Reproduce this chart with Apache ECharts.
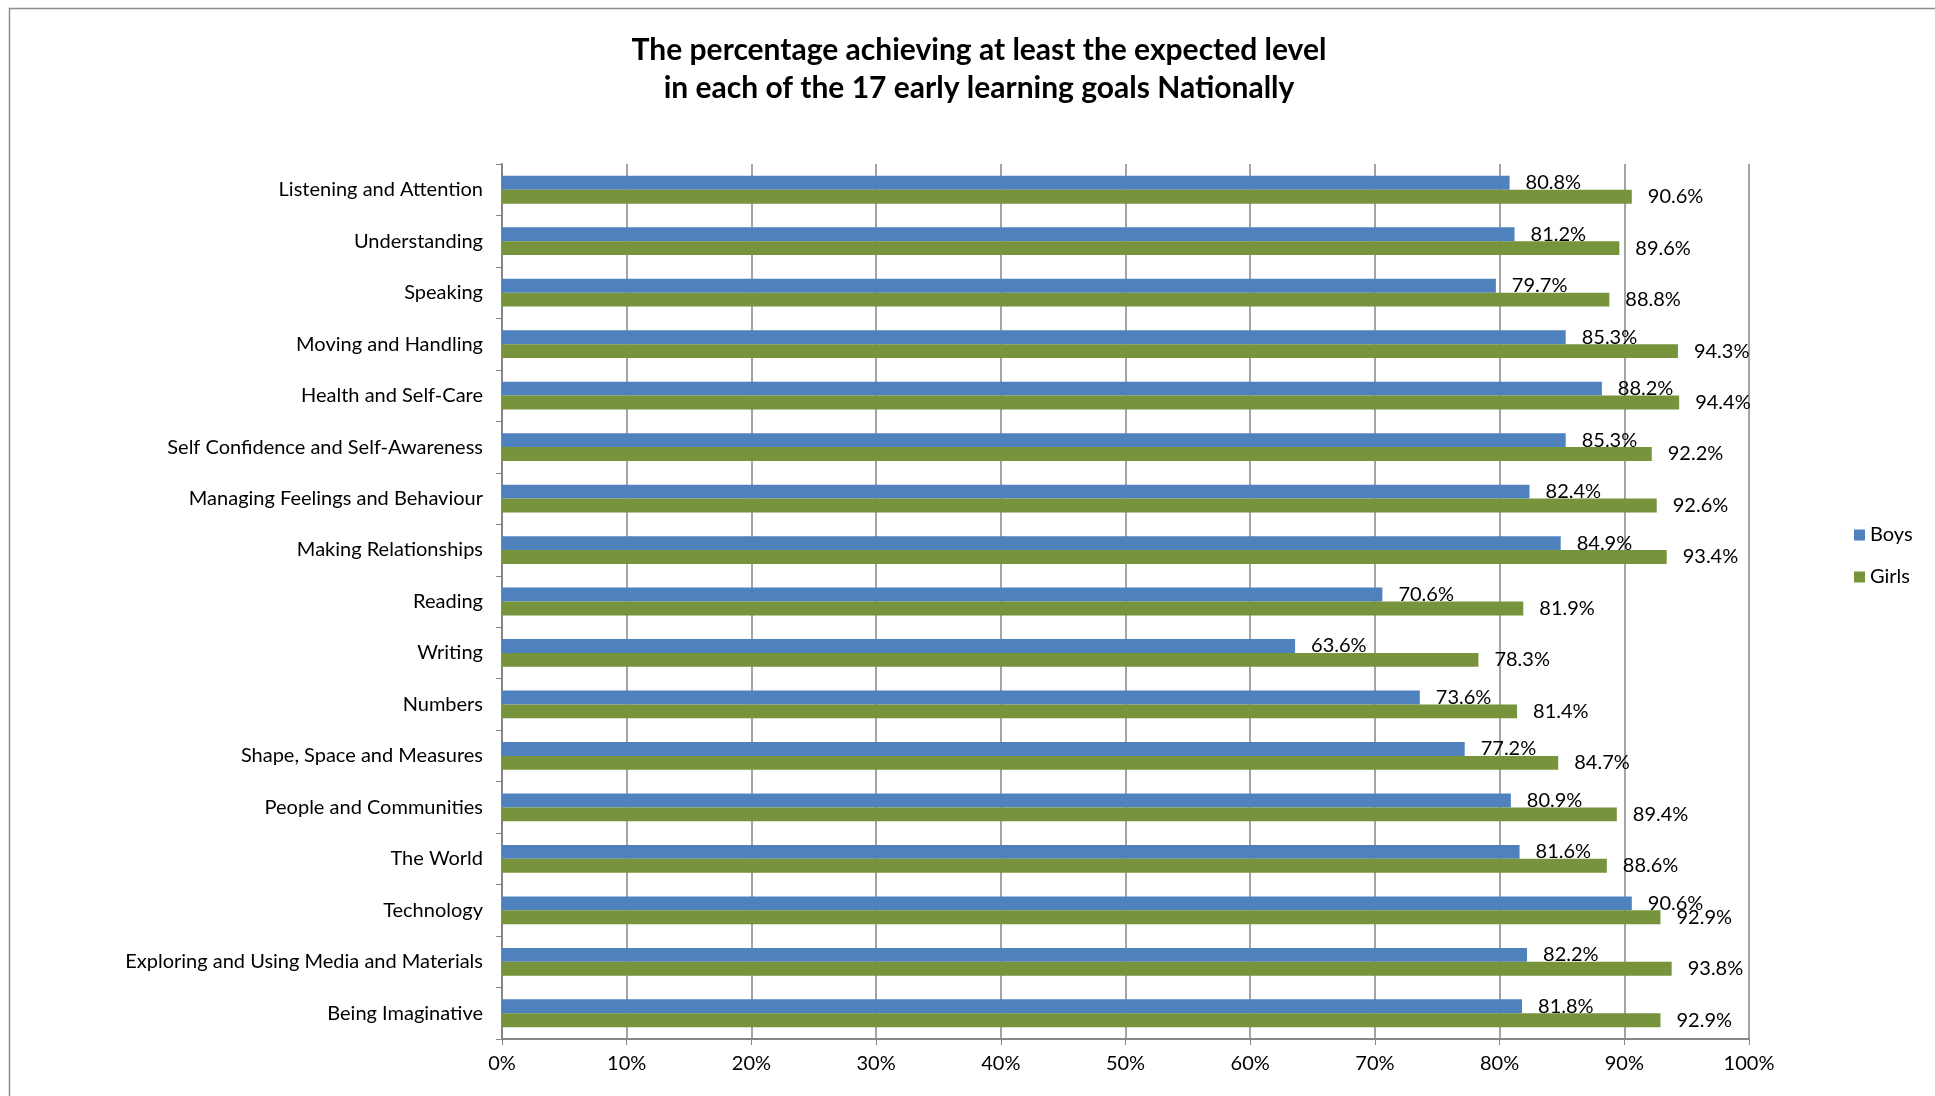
<!DOCTYPE html>
<html>
<head>
<meta charset="utf-8">
<script src="https://cdn.jsdelivr.net/npm/echarts@6/dist/echarts.min.js"></script>
<style>html,body{margin:0;padding:0;background:#fff;}#c{width:1935px;height:1096px;}</style>
</head>
<body>
<div id="c"></div>
<script>
const categories = ["Listening and Attention","Understanding","Speaking","Moving and Handling","Health and Self-Care","Self Confidence and Self-Awareness","Managing Feelings and Behaviour","Making Relationships","Reading","Writing","Numbers","Shape, Space and Measures","People and Communities","The World","Technology","Exploring and Using Media and Materials","Being Imaginative"];
const boys = [80.8,81.2,79.7,85.3,88.2,85.3,82.4,84.9,70.6,63.6,73.6,77.2,80.9,81.6,90.6,82.2,81.8];
const girls = [90.6,89.6,88.8,94.3,94.4,92.2,92.6,93.4,81.9,78.3,81.4,84.7,89.4,88.6,92.9,93.8,92.9];
const seriesNames = ["Boys","Girls"];
const titleLines = ["The percentage achieving at least the expected level","in each of the 17 early learning goals Nationally"];

const font = "Lato, 'Open Sans', sans-serif";
const chart = echarts.init(document.getElementById('c'));
const lbl = {show:true,position:'right',distance:16,fontSize:20,fontFamily:font,color:'#000',formatter:p=>p.value.toFixed(1)+'%'};
chart.setOption({
  animation:false,
  backgroundColor:'#fff',
  graphic:[{type:'rect',shape:{x:9.5,y:8.5,width:3000,height:3000},style:{fill:'none',stroke:'#8c8c8c',lineWidth:1.5},z:-1}],
  title:{text:titleLines.join('\n'),left:974,textAlign:'center',top:26,textStyle:{fontFamily:font,fontWeight:'bold',fontSize:30,lineHeight:38,color:'#000'}},
  legend:{orient:'vertical',left:1849,top:520,itemWidth:11,itemHeight:11,itemGap:22,icon:'rect',textStyle:{fontFamily:font,fontSize:20,color:'#000'},data:seriesNames},
  grid:{left:502,right:186,top:164,bottom:57,containLabel:false},
  xAxis:{type:'value',min:0,max:100,interval:10,
    axisLabel:{formatter:'{value}%',fontFamily:font,fontSize:20,color:'#000',margin:15},
    axisLine:{show:true,lineStyle:{color:'#868686',width:2}},
    axisTick:{show:true,length:6,lineStyle:{color:'#868686'}},
    splitLine:{show:true,lineStyle:{color:'#868686',width:1.5}}},
  yAxis:{type:'category',inverse:true,data:categories,
    axisLabel:{fontFamily:font,fontSize:20,color:'#000',margin:19},
    axisLine:{show:true,lineStyle:{color:'#868686',width:2}},
    axisTick:{show:true,length:6,lineStyle:{color:'#868686'}}},
  series:[
    {name:seriesNames[0],type:'bar',data:boys,barGap:'0%',barCategoryGap:'46%',itemStyle:{color:'#4F81BD'},label:lbl},
    {name:seriesNames[1],type:'bar',data:girls,barGap:'0%',barCategoryGap:'46%',itemStyle:{color:'#77933C'},label:lbl}
  ]
});
</script>
</body>
</html>
